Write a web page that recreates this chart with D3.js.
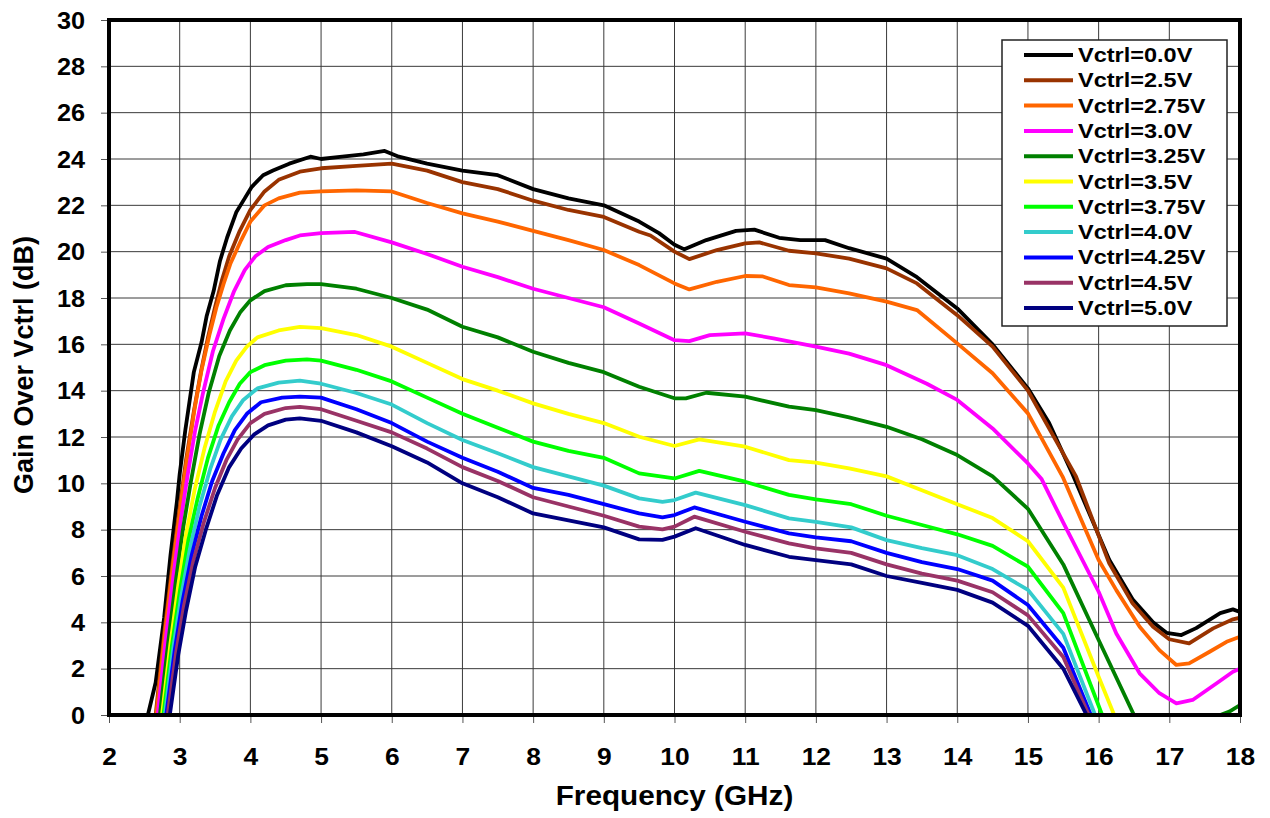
<!DOCTYPE html>
<html><head><meta charset="utf-8">
<script src="https://cdn.jsdelivr.net/npm/d3@7"></script>
<style>
body{margin:0;background:#fff;}
text{font-family:"Liberation Sans",Arial,sans-serif;font-weight:bold;fill:#000;}
</style></head><body>
<svg id="chart" width="1270" height="818"></svg>
<script>
// ---------- DATA (frequency GHz, gain dB) ----------
const seriesNames = ["Vctrl=0.0V","Vctrl=2.5V","Vctrl=2.75V","Vctrl=3.0V","Vctrl=3.25V","Vctrl=3.5V","Vctrl=3.75V","Vctrl=4.0V","Vctrl=4.25V","Vctrl=4.5V","Vctrl=5.0V"];
const seriesColors = ["#000000","#993300","#FF6600","#FF00FF","#008000","#FFFF00","#00FF00","#33CCCC","#0000FF","#993366","#000080"];

const v00 = [[2.55,0],[2.66,1.4],[2.78,4.2],[2.87,6.9],[2.96,9.2],[3.0,10.4],[3.08,12.3],[3.2,14.8],[3.31,16.1],[3.38,17.2],[3.48,18.3],[3.57,19.6],[3.67,20.6],[3.8,21.7],[3.92,22.3],[4.02,22.8],[4.18,23.3],[4.32,23.5],[4.55,23.8],[4.85,24.1],[5.0,24.0],[5.3,24.1],[5.6,24.2],[5.9,24.35],[6.1,24.1],[6.5,23.8],[7.0,23.5],[7.5,23.3],[8.0,22.7],[8.5,22.3],[9.0,22.0],[9.5,21.3],[9.78,20.8],[10.0,20.3],[10.14,20.1],[10.45,20.5],[10.87,20.9],[11.13,20.95],[11.48,20.6],[11.78,20.5],[12.13,20.5],[12.47,20.15],[13.0,19.7],[13.43,18.9],[14.0,17.55],[14.5,16.0],[15.0,14.1],[15.3,12.6],[15.63,10.4],[16.15,6.7],[16.48,5.0],[16.77,4.0],[16.96,3.55],[17.17,3.45],[17.38,3.75],[17.72,4.4],[17.9,4.56],[18.0,4.45]];
const v25 = [[2.66,0],[2.78,3.5],[2.9,6.6],[3.01,9.2],[3.09,11.0],[3.2,13.1],[3.3,14.8],[3.4,16.3],[3.5,17.6],[3.6,18.8],[3.7,19.8],[3.85,20.9],[4.0,21.8],[4.2,22.6],[4.4,23.1],[4.7,23.45],[5.0,23.6],[5.5,23.7],[6.0,23.8],[6.5,23.5],[7.0,23.0],[7.5,22.7],[8.0,22.2],[8.5,21.8],[9.0,21.5],[9.5,20.86],[9.66,20.7],[10.0,20.0],[10.21,19.68],[10.6,20.07],[11.0,20.36],[11.2,20.4],[11.62,20.04],[12.0,19.93],[12.47,19.7],[13.0,19.28],[13.43,18.63],[14.0,17.26],[14.5,15.9],[15.0,14.0],[15.68,10.3],[16.15,6.55],[16.48,4.82],[16.77,3.81],[17.0,3.27],[17.28,3.09],[17.62,3.74],[17.9,4.13],[18.0,4.2]];
const v275 = [[2.67,0],[2.79,3.5],[2.91,6.6],[3.02,9.2],[3.1,11.0],[3.21,13.2],[3.31,14.9],[3.42,16.4],[3.52,17.6],[3.62,18.6],[3.72,19.5],[3.87,20.5],[4.0,21.3],[4.2,22.0],[4.4,22.3],[4.7,22.55],[5.0,22.6],[5.5,22.65],[6.0,22.6],[6.5,22.1],[7.0,21.65],[7.5,21.3],[8.0,20.9],[8.5,20.5],[9.0,20.07],[9.5,19.42],[10.0,18.63],[10.21,18.37],[10.6,18.7],[11.0,18.95],[11.25,18.93],[11.62,18.56],[12.0,18.46],[12.47,18.2],[13.0,17.84],[13.43,17.48],[14.0,16.04],[14.5,14.75],[15.0,13.02],[15.49,10.29],[16.0,6.69],[16.25,5.39],[16.58,3.81],[16.86,2.8],[17.1,2.16],[17.28,2.23],[17.57,2.73],[17.81,3.16],[18.0,3.38]];
const v30 = [[2.69,0],[2.8,3.2],[2.91,6.0],[3.02,8.5],[3.12,10.5],[3.22,12.3],[3.33,13.9],[3.47,15.7],[3.62,17.1],[3.77,18.3],[3.92,19.2],[4.07,19.8],[4.25,20.2],[4.5,20.5],[4.7,20.7],[5.0,20.8],[5.48,20.85],[6.0,20.4],[6.5,19.9],[7.0,19.35],[7.5,18.9],[8.0,18.4],[8.5,18.0],[9.0,17.6],[9.5,16.9],[10.0,16.18],[10.21,16.14],[10.5,16.4],[11.0,16.47],[11.4,16.26],[12.0,15.9],[12.47,15.6],[13.0,15.1],[13.57,14.3],[14.0,13.6],[14.5,12.37],[15.0,10.86],[15.19,10.2],[15.5,8.3],[16.0,5.32],[16.25,3.52],[16.58,1.8],[16.86,0.94],[17.1,0.5],[17.33,0.65],[17.67,1.37],[17.9,1.87],[18.0,2.0]];
const v325 = [[2.72,0],[2.84,3.2],[2.95,5.9],[3.05,8.1],[3.16,10.1],[3.28,12.1],[3.41,13.9],[3.56,15.5],[3.71,16.6],[3.86,17.4],[4.0,17.9],[4.2,18.3],[4.5,18.55],[4.8,18.6],[5.0,18.6],[5.5,18.4],[6.0,18.0],[6.5,17.5],[7.0,16.76],[7.5,16.3],[8.0,15.68],[8.5,15.2],[9.0,14.8],[9.5,14.17],[10.0,13.67],[10.16,13.67],[10.45,13.91],[11.0,13.74],[11.62,13.31],[12.0,13.16],[12.47,12.85],[13.0,12.44],[13.5,11.9],[14.0,11.22],[14.5,10.3],[15.0,8.9],[15.5,6.5],[16.0,3.24],[16.5,0],[16.6,NaN],[17.72,0],[17.85,0.15],[18.0,0.43]];
const v35 = [[2.75,0],[2.87,3.1],[2.98,5.6],[3.09,7.8],[3.21,9.7],[3.35,11.5],[3.5,13.1],[3.65,14.4],[3.8,15.3],[3.95,15.9],[4.1,16.3],[4.4,16.6],[4.7,16.75],[5.0,16.7],[5.5,16.4],[6.0,15.9],[6.5,15.2],[7.0,14.5],[7.5,14.0],[8.0,13.45],[8.5,13.0],[9.0,12.6],[9.5,12.01],[10.0,11.61],[10.35,11.9],[11.0,11.58],[11.62,11.0],[12.0,10.89],[12.47,10.65],[13.0,10.3],[13.5,9.7],[14.0,9.1],[14.5,8.5],[15.0,7.5],[15.5,5.5],[16.0,1.65],[16.22,0]];
const v375 = [[2.77,0],[2.89,3.0],[3.0,5.3],[3.12,7.5],[3.25,9.3],[3.4,11.1],[3.55,12.5],[3.7,13.5],[3.85,14.3],[4.0,14.8],[4.2,15.1],[4.5,15.3],[4.8,15.35],[5.0,15.3],[5.5,14.9],[6.0,14.4],[6.5,13.7],[7.0,13.0],[7.5,12.4],[8.0,11.8],[8.5,11.4],[9.0,11.1],[9.5,10.43],[10.0,10.21],[10.35,10.54],[11.0,10.07],[11.62,9.5],[12.0,9.31],[12.5,9.1],[13.0,8.6],[13.5,8.2],[14.0,7.8],[14.5,7.3],[15.0,6.4],[15.5,4.4],[16.05,0]];
const v40 = [[2.79,0],[2.91,2.9],[3.02,5.1],[3.14,7.1],[3.28,9.0],[3.43,10.6],[3.58,11.9],[3.74,12.9],[3.9,13.6],[4.1,14.1],[4.4,14.35],[4.7,14.43],[5.0,14.3],[5.5,13.9],[6.0,13.4],[6.5,12.6],[7.0,11.87],[7.5,11.3],[8.0,10.7],[8.5,10.3],[9.0,9.9],[9.5,9.35],[9.83,9.2],[10.0,9.28],[10.3,9.6],[11.0,9.06],[11.62,8.49],[12.0,8.34],[12.5,8.1],[13.0,7.55],[13.5,7.2],[14.0,6.9],[14.5,6.3],[15.0,5.4],[15.5,3.5],[15.95,0]];
const v425 = [[2.81,0],[2.93,2.8],[3.04,4.9],[3.17,6.9],[3.31,8.6],[3.46,10.1],[3.62,11.3],[3.78,12.3],[3.95,13.0],[4.15,13.5],[4.45,13.7],[4.7,13.74],[5.0,13.7],[5.5,13.2],[6.0,12.6],[6.5,11.8],[7.0,11.1],[7.5,10.5],[8.0,9.8],[8.5,9.5],[9.0,9.1],[9.5,8.7],[9.83,8.53],[10.0,8.63],[10.28,8.96],[11.0,8.34],[11.62,7.84],[12.0,7.67],[12.5,7.5],[13.0,7.0],[13.5,6.6],[14.0,6.3],[14.5,5.8],[15.0,4.75],[15.5,2.9],[15.89,0]];
const v45 = [[2.83,0],[2.95,2.7],[3.06,4.7],[3.19,6.6],[3.34,8.3],[3.5,9.8],[3.66,11.0],[3.82,11.9],[4.0,12.6],[4.2,13.0],[4.5,13.25],[4.7,13.3],[5.0,13.2],[5.5,12.7],[6.0,12.2],[6.5,11.5],[7.0,10.7],[7.5,10.1],[8.0,9.4],[8.5,9.0],[9.0,8.6],[9.5,8.13],[9.83,8.01],[10.0,8.13],[10.28,8.56],[11.0,7.91],[11.62,7.41],[12.0,7.19],[12.5,7.0],[13.0,6.5],[13.5,6.1],[14.0,5.8],[14.5,5.3],[15.0,4.3],[15.5,2.5],[15.86,0]];
const v50 = [[2.86,0],[2.98,2.6],[3.09,4.5],[3.22,6.4],[3.37,8.0],[3.53,9.5],[3.7,10.7],[3.87,11.5],[4.05,12.1],[4.25,12.5],[4.5,12.75],[4.7,12.8],[5.0,12.7],[5.5,12.2],[6.0,11.6],[6.5,10.9],[7.0,10.0],[7.5,9.4],[8.0,8.7],[8.5,8.4],[9.0,8.1],[9.5,7.58],[9.83,7.56],[10.0,7.7],[10.3,8.06],[11.0,7.34],[11.62,6.83],[12.0,6.69],[12.5,6.5],[13.0,6.0],[13.5,5.7],[14.0,5.4],[14.5,4.85],[15.0,3.85],[15.5,2.0],[15.83,0]];
const seriesData = [v00,v25,v275,v30,v325,v35,v375,v40,v425,v45,v50];

const xTicks = [2,3,4,5,6,7,8,9,10,11,12,13,14,15,16,17,18];
const yTicks = [0,2,4,6,8,10,12,14,16,18,20,22,24,26,28,30];

// ---------- LAYOUT ----------
const svg = d3.select("#chart");
const P = {left:109, right:1240, top:20, bottom:715};
const SX = 1.1; // horizontal stretch of text
const x = d3.scaleLinear().domain([2,18]).range([P.left,P.right]);
const y = d3.scaleLinear().domain([0,30]).range([P.bottom,P.top]);

svg.append("rect").attr("width",1270).attr("height",818).attr("fill","#fff");

// gridlines
const grid = svg.append("g").attr("stroke","#3a3a3a").attr("stroke-width",1);
grid.selectAll("line.h").data(yTicks.filter(d=>d>0&&d<30)).join("line")
  .attr("x1",P.left).attr("x2",P.right).attr("y1",d=>y(d)).attr("y2",d=>y(d));
grid.selectAll("line.v").data(xTicks.filter(d=>d>2&&d<18)).join("line")
  .attr("y1",P.top).attr("y2",P.bottom).attr("x1",d=>x(d)).attr("x2",d=>x(d));

// axes
const yAxis = svg.append("g").attr("transform",`translate(${P.left},0)`)
  .call(d3.axisLeft(y).tickValues(yTicks).tickSize(8).tickFormat(d3.format("d")));
const xAxis = svg.append("g").attr("transform",`translate(0,${P.bottom})`)
  .call(d3.axisBottom(x).tickValues(xTicks).tickSize(8).tickFormat(d3.format("d")));
[yAxis,xAxis].forEach(a=>{
  a.select(".domain").remove();
  a.selectAll(".tick line").attr("stroke","#555").attr("stroke-width",1);
});
yAxis.selectAll(".tick text").attr("x",0).attr("dy",null)
  .attr("transform",`translate(-24,0) scale(${SX},1)`)
  .attr("dominant-baseline","central")
  .style("font-size","23px").style("font-family","'Liberation Sans',Arial,sans-serif").style("font-weight","bold").attr("fill","#000");
xAxis.selectAll(".tick text").attr("y",0).attr("dy",null)
  .attr("transform",`translate(0,50) scale(${SX},1)`)
  .style("font-size","24px").style("font-family","'Liberation Sans',Arial,sans-serif").style("font-weight","bold").attr("fill","#000");

// clip
svg.append("defs").append("clipPath").attr("id","clip")
  .append("rect").attr("x",P.left).attr("y",P.top).attr("width",P.right-P.left).attr("height",P.bottom-P.top);

const line = d3.line().defined(d=>!isNaN(d[1])).x(d=>x(d[0])).y(d=>y(d[1]));
svg.append("g").attr("clip-path","url(#clip)")
  .selectAll("path").data(seriesData).join("path")
  .attr("d",line).attr("fill","none")
  .attr("stroke",(d,i)=>seriesColors[i]).attr("stroke-width",3.8)
  .attr("stroke-linejoin","round").attr("stroke-linecap","round");

// frame
svg.append("rect").attr("x",P.left).attr("y",P.top).attr("width",P.right-P.left).attr("height",P.bottom-P.top)
  .attr("fill","none").attr("stroke","#000").attr("stroke-width",4);

// axis titles
svg.append("text").attr("transform",`translate(${(P.left+P.right)/2},805) scale(${SX},1)`)
  .attr("text-anchor","middle").style("font-size","27px").text("Frequency (GHz)");
svg.append("text").attr("transform",`translate(33,365) rotate(-90)`)
  .attr("text-anchor","middle").style("font-size","27px").text("Gain Over Vctrl (dB)");

// legend
const L = {x:1002, y:40, w:225, h:286, row:25.3, first:55};
const lg = svg.append("g");
lg.append("rect").attr("x",L.x).attr("y",L.y).attr("width",L.w).attr("height",L.h)
  .attr("fill","#fff").attr("stroke","#222").attr("stroke-width",1.5);
const items = lg.selectAll("g.item").data(seriesNames).join("g")
  .attr("transform",(d,i)=>`translate(0,${L.first+i*L.row})`);
items.append("line").attr("x1",1024).attr("x2",1073).attr("y1",0).attr("y2",0)
  .attr("stroke",(d,i)=>seriesColors[i]).attr("stroke-width",4);
items.append("text").attr("transform",`translate(1078,0) scale(1.12,1)`)
  .attr("dominant-baseline","central").style("font-size","21px").text(d=>d);
</script></body></html>
